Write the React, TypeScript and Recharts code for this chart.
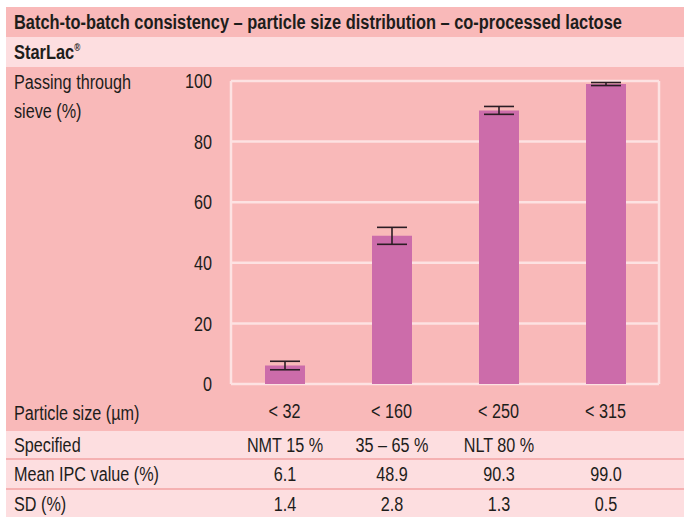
import React from 'react';
import {
    BarChart,
    Bar,
    XAxis,
    YAxis,
    CartesianGrid,
    ErrorBar,
} from 'recharts';

const SIZES = ['< 32', '< 160', '< 250', '< 315'];
const SPECIFIED = ['NMT 15 %', '35 – 65 %', 'NLT 80 %', ''];
const MEAN_IPC = [6.1, 48.9, 90.3, 99.0];
const SD = [1.4, 2.8, 1.3, 0.5];
const Y_TICKS = [0, 20, 40, 60, 80, 100];

const data = SIZES.map((size, i) => ({
    size,
    mean: MEAN_IPC[i],
    sd: SD[i],
}));

// no condensed font installed, so Liberation Sans squeezed horizontally
const FONT = '"Liberation Sans", Arial, sans-serif';
const FS = 20;
const SQUEEZE = 0.81;
const DARK = '#f9b9b9';
const LIGHT = '#fddee0';
const SEP = '#f5b1b2';
const INK = '#1d1d1b';
const BAR = '#cc6caa';
const GRID = '#fde2e2';

const W = 684;
const H = 517;
const PLOT_LEFT = 231;
const PLOT_RIGHT = 659;
const PLOT_TOP = 81;
const PLOT_BOTTOM = 384;
const Y_AXIS_W = 60;
const X_AXIS_H = 30;
const BAND = (PLOT_RIGHT - PLOT_LEFT) / SIZES.length;

const text: React.CSSProperties = {
    position: 'absolute',
    fontFamily: FONT,
    fontSize: FS,
    color: INK,
    lineHeight: '20px',
    whiteSpace: 'nowrap',
    transform: `scaleX(${SQUEEZE})`,
    transformOrigin: 'left center',
};

const band = (top: number, height: number, bg: string): React.CSSProperties => ({
    position: 'absolute',
    left: 6,
    right: 0,
    top,
    height,
    background: bg,
});

const YTick = ({ x, y, payload }: any) => (
    <g transform={`translate(${x},${y})`}>
        <text
            transform={`scale(${SQUEEZE},1)`}
            textAnchor="end"
            dy="0.355em"
            fill={INK}
            fontSize={FS}
            fontFamily={FONT}
        >
            {payload.value}
        </text>
    </g>
);

const XTick = ({ x, y, payload }: any) => (
    <g transform={`translate(${x},${y})`}>
        <text
            transform={`scale(${SQUEEZE},1)`}
            textAnchor="middle"
            dy="0.71em"
            fill={INK}
            fontSize={FS}
            fontFamily={FONT}
        >
            {payload.value}
        </text>
    </g>
);

const TableRow = ({
    top,
    label,
    values,
}: {
    top: number;
    label: string;
    values: string[];
}) => (
    <>
        <div style={{ ...text, left: 14, top: top + 4 }}>{label}</div>
        {values.map((v, i) => (
            <div
                key={i}
                style={{
                    ...text,
                    top: top + 4,
                    left: PLOT_LEFT + BAND * (i + 0.5) - 60,
                    width: 120,
                    textAlign: 'center',
                    transformOrigin: 'center center',
                }}
            >
                {v}
            </div>
        ))}
    </>
);

export default function App() {
    return (
        <div
            style={{
                position: 'absolute',
                left: 0,
                top: 0,
                width: W,
                height: H,
                background: '#fff',
                overflow: 'hidden',
            }}
        >
            <div style={band(7, 30, DARK)} />
            <div style={band(37, 30, LIGHT)} />
            <div style={band(67, 364, DARK)} />
            <div style={band(431, 27, LIGHT)} />
            <div style={band(458, 2, SEP)} />
            <div style={band(460, 28, LIGHT)} />
            <div style={band(488, 2, SEP)} />
            <div style={band(490, 27, LIGHT)} />

            <div
                style={{
                    ...text,
                    left: 14,
                    top: 12,
                    fontWeight: 'bold',
                    transform: 'scaleX(0.82)',
                }}
            >
                Batch-to-batch consistency – particle size distribution – co-processed lactose
            </div>
            <div
                style={{
                    ...text,
                    left: 14,
                    top: 42,
                    fontWeight: 'bold',
                    transform: 'scaleX(0.82)',
                }}
            >
                StarLac
                <span style={{ fontSize: 10, verticalAlign: 'top', lineHeight: '12px' }}>®</span>
            </div>
            <div style={{ ...text, left: 14, top: 68, lineHeight: '29px' }}>
                Passing through
                <br />
                sieve (%)
            </div>
            <div style={{ ...text, left: 14, top: 403 }}>Particle size (µm)</div>

            <div style={{ position: 'absolute', left: 0, top: 0 }}>
                <BarChart
                    width={W}
                    height={H}
                    data={data}
                    margin={{
                        top: PLOT_TOP,
                        right: W - PLOT_RIGHT,
                        left: PLOT_LEFT - Y_AXIS_W,
                        bottom: H - PLOT_BOTTOM - X_AXIS_H,
                    }}
                    barSize={40}
                >
                    <CartesianGrid
                        stroke={GRID}
                        strokeWidth={2.5}
                        verticalCoordinatesGenerator={({ offset }: any) => [
                            offset.left,
                            offset.left + offset.width,
                        ]}
                    />
                    <XAxis
                        dataKey="size"
                        height={X_AXIS_H}
                        axisLine={false}
                        tickLine={false}
                        tickSize={0}
                        tickMargin={20}
                        tick={<XTick />}
                        interval={0}
                    />
                    <YAxis
                        width={Y_AXIS_W}
                        domain={[0, 100]}
                        ticks={Y_TICKS}
                        axisLine={false}
                        tickLine={false}
                        tickSize={0}
                        tickMargin={19}
                        tick={<YTick />}
                    />
                    <Bar dataKey="mean" fill={BAR} isAnimationActive={false}>
                        <ErrorBar
                            dataKey="sd"
                            width={15}
                            stroke="#2b1d24"
                            strokeWidth={1.6}
                            isAnimationActive={false}
                        />
                    </Bar>
                </BarChart>
            </div>

            <TableRow top={431} label="Specified" values={SPECIFIED} />
            <TableRow
                top={460}
                label="Mean IPC value (%)"
                values={MEAN_IPC.map((v) => v.toFixed(1))}
            />
            <TableRow top={490} label="SD (%)" values={SD.map((v) => v.toFixed(1))} />
        </div>
    );
}
